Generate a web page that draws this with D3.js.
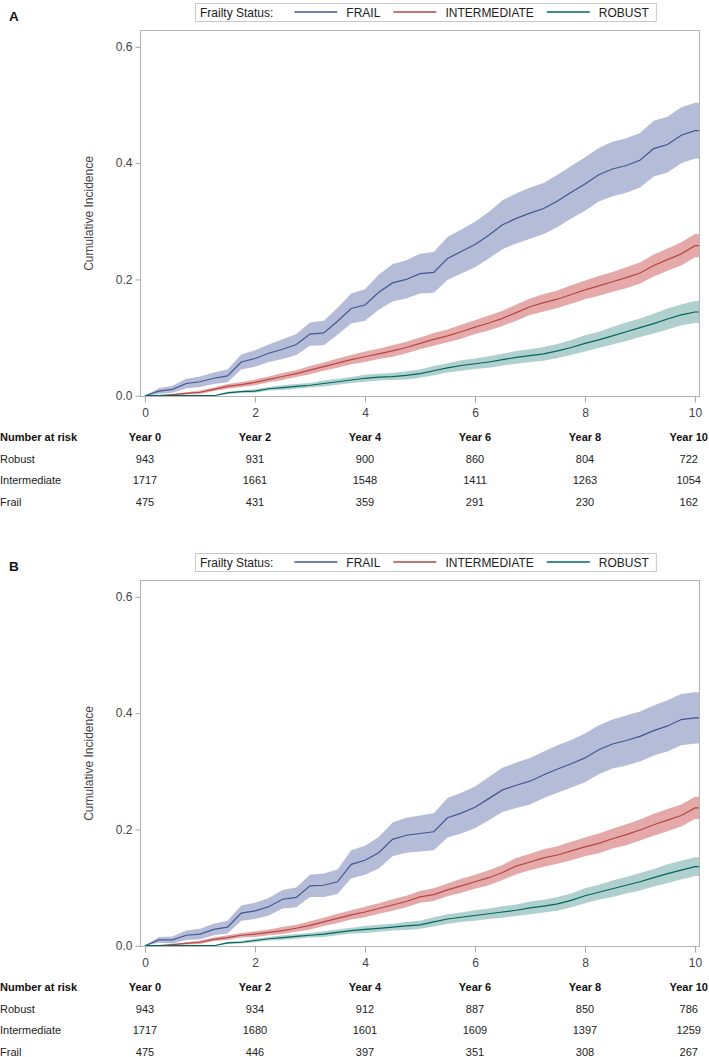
<!DOCTYPE html>
<html>
<head>
<meta charset="utf-8">
<script src="https://cdn.jsdelivr.net/npm/d3@7"></script>
<style>
  html, body { margin: 0; padding: 0; background: #fff; }
  svg text { font-family: "Liberation Sans", Arial, sans-serif; }
</style>
</head>
<body>
<svg id="chart" width="709" height="1057"></svg>
<script>
// ---------------- DATA ----------------
const times = [0,0.25,0.5,0.75,1,1.25,1.5,1.75,2,2.25,2.5,2.75,3,3.25,3.5,3.75,4,4.25,4.5,4.75,5,5.25,5.5,5.75,6,6.25,6.5,6.75,7,7.25,7.5,7.75,8,8.25,8.5,8.75,9,9.25,9.5,9.75,10];

const seriesNames = ["FRAIL", "INTERMEDIATE", "ROBUST"];
const xTicks = [0, 2, 4, 6, 8, 10];
const yTicks = [0.0, 0.2, 0.4, 0.6];
const riskHeader = ["Year 0", "Year 2", "Year 4", "Year 6", "Year 8", "Year 10"];
const riskRows = ["Robust", "Intermediate", "Frail"];
const panelLabels = ["A", "B"];

// Panel A
const aFrail    = [0,0.008,0.011,0.021,0.024,0.030,0.034,0.058,0.064,0.073,0.080,0.088,0.106,0.108,0.128,0.150,0.156,0.178,0.194,0.200,0.210,0.212,0.236,0.248,0.260,0.276,0.294,0.305,0.314,0.322,0.335,0.350,0.364,0.380,0.390,0.396,0.405,0.425,0.432,0.448,0.456];
const aFrailLo  = [0,0.003,0.005,0.013,0.015,0.020,0.023,0.045,0.050,0.058,0.063,0.070,0.086,0.087,0.105,0.124,0.129,0.148,0.162,0.167,0.176,0.177,0.199,0.210,0.221,0.236,0.252,0.262,0.270,0.278,0.290,0.305,0.318,0.334,0.343,0.349,0.358,0.377,0.384,0.400,0.408];
const aFrailHi  = [0,0.013,0.017,0.029,0.033,0.040,0.045,0.071,0.078,0.088,0.097,0.106,0.126,0.129,0.151,0.176,0.183,0.208,0.226,0.233,0.244,0.247,0.273,0.286,0.299,0.316,0.336,0.348,0.358,0.366,0.380,0.395,0.410,0.426,0.437,0.443,0.452,0.473,0.480,0.496,0.504];
const aInter    = [0,0,0.002,0.004,0.006,0.011,0.016,0.019,0.023,0.028,0.033,0.038,0.044,0.050,0.056,0.062,0.067,0.072,0.077,0.083,0.090,0.097,0.103,0.110,0.118,0.125,0.133,0.143,0.153,0.160,0.166,0.174,0.182,0.189,0.196,0.203,0.211,0.224,0.234,0.244,0.258];
const aInterLo  = [0,0,0.001,0.002,0.003,0.008,0.012,0.015,0.018,0.023,0.027,0.032,0.037,0.043,0.048,0.054,0.058,0.063,0.067,0.073,0.080,0.086,0.092,0.098,0.106,0.112,0.120,0.129,0.139,0.145,0.151,0.158,0.166,0.172,0.179,0.185,0.193,0.205,0.215,0.224,0.238];
const aInterHi  = [0,0,0.003,0.006,0.009,0.014,0.020,0.023,0.028,0.033,0.039,0.044,0.051,0.057,0.064,0.070,0.076,0.081,0.087,0.093,0.100,0.108,0.114,0.122,0.130,0.138,0.146,0.157,0.167,0.175,0.181,0.190,0.198,0.206,0.213,0.221,0.229,0.243,0.253,0.264,0.278];
const aRobust   = [0,0,0,0,0,0,0.005,0.007,0.008,0.012,0.014,0.016,0.018,0.021,0.024,0.027,0.030,0.032,0.033,0.035,0.038,0.043,0.048,0.052,0.055,0.058,0.062,0.066,0.069,0.072,0.077,0.083,0.090,0.096,0.103,0.110,0.117,0.124,0.132,0.139,0.144];
const aRobustLo = [0,0,0,0,0,0,0.003,0.005,0.005,0.009,0.010,0.012,0.014,0.016,0.019,0.022,0.024,0.026,0.027,0.028,0.031,0.035,0.040,0.043,0.046,0.048,0.052,0.055,0.058,0.060,0.065,0.070,0.076,0.082,0.088,0.094,0.101,0.107,0.114,0.121,0.125];
const aRobustHi = [0,0,0,0,0,0,0.007,0.009,0.011,0.015,0.018,0.020,0.022,0.026,0.029,0.032,0.036,0.038,0.039,0.042,0.045,0.051,0.056,0.061,0.064,0.068,0.072,0.077,0.080,0.084,0.089,0.096,0.104,0.110,0.118,0.126,0.133,0.141,0.150,0.157,0.163];
const aRiskRobust = [943, 931, 900, 860, 804, 722];
const aRiskInter  = [1717, 1661, 1548, 1411, 1263, 1054];
const aRiskFrail  = [475, 431, 359, 291, 230, 162];

// Panel B
const bFrail    = [0,0.010,0.010,0.018,0.020,0.028,0.032,0.056,0.060,0.067,0.080,0.083,0.103,0.104,0.110,0.140,0.147,0.160,0.183,0.190,0.193,0.196,0.220,0.228,0.238,0.253,0.268,0.276,0.283,0.294,0.304,0.313,0.323,0.337,0.347,0.353,0.360,0.370,0.378,0.389,0.392];
const bFrailLo  = [0,0.005,0.004,0.010,0.011,0.018,0.021,0.043,0.046,0.052,0.064,0.066,0.084,0.084,0.089,0.116,0.122,0.133,0.154,0.160,0.162,0.164,0.186,0.193,0.202,0.216,0.230,0.237,0.243,0.254,0.263,0.272,0.281,0.295,0.305,0.310,0.317,0.327,0.334,0.345,0.348];
const bFrailHi  = [0,0.015,0.016,0.026,0.029,0.038,0.043,0.069,0.074,0.082,0.096,0.100,0.122,0.124,0.131,0.164,0.172,0.187,0.212,0.220,0.224,0.228,0.254,0.263,0.274,0.290,0.306,0.315,0.323,0.334,0.345,0.354,0.365,0.379,0.389,0.396,0.403,0.413,0.422,0.433,0.436];
const bInter    = [0,0,0.002,0.004,0.006,0.011,0.014,0.018,0.020,0.023,0.026,0.030,0.035,0.041,0.047,0.053,0.058,0.064,0.070,0.076,0.084,0.088,0.096,0.103,0.110,0.117,0.126,0.137,0.144,0.151,0.156,0.163,0.170,0.176,0.184,0.191,0.199,0.208,0.216,0.224,0.237];
const bInterLo  = [0,0,0.001,0.002,0.003,0.008,0.010,0.014,0.015,0.018,0.020,0.024,0.028,0.034,0.039,0.045,0.049,0.055,0.060,0.066,0.074,0.077,0.085,0.091,0.098,0.104,0.113,0.123,0.130,0.136,0.141,0.147,0.154,0.159,0.167,0.173,0.181,0.189,0.197,0.205,0.218];
const bInterHi  = [0,0,0.003,0.006,0.009,0.014,0.018,0.022,0.025,0.028,0.032,0.036,0.042,0.048,0.055,0.061,0.067,0.073,0.080,0.086,0.094,0.099,0.107,0.115,0.122,0.130,0.139,0.151,0.158,0.166,0.171,0.179,0.186,0.193,0.201,0.209,0.217,0.227,0.235,0.243,0.256];
const bRobust   = [0,0,0,0,0,0,0.005,0.006,0.009,0.012,0.014,0.016,0.018,0.020,0.023,0.026,0.028,0.030,0.032,0.034,0.036,0.041,0.046,0.049,0.052,0.055,0.058,0.061,0.065,0.068,0.072,0.078,0.086,0.092,0.098,0.104,0.110,0.117,0.124,0.130,0.136];
const bRobustLo = [0,0,0,0,0,0,0.003,0.004,0.006,0.009,0.010,0.012,0.014,0.015,0.018,0.021,0.022,0.024,0.026,0.027,0.029,0.033,0.038,0.041,0.043,0.046,0.048,0.051,0.054,0.057,0.060,0.066,0.073,0.079,0.084,0.090,0.095,0.102,0.108,0.114,0.120];
const bRobustHi = [0,0,0,0,0,0,0.007,0.008,0.012,0.015,0.018,0.020,0.022,0.025,0.028,0.031,0.034,0.036,0.038,0.041,0.043,0.049,0.054,0.057,0.061,0.064,0.068,0.071,0.076,0.079,0.084,0.090,0.099,0.105,0.112,0.118,0.125,0.132,0.140,0.146,0.152];
const bRiskRobust = [943, 934, 912, 887, 850, 786];
const bRiskInter  = [1717, 1680, 1601, 1609, 1397, 1259];
const bRiskFrail  = [475, 446, 397, 351, 308, 267];

// ---------------- STYLE ----------------
const lineColors = { FRAIL: "#445694", INTERMEDIATE: "#B24745", ROBUST: "#01665E" };
const bandColors = { FRAIL: "#6F7EB3", INTERMEDIATE: "#D05B5B", ROBUST: "#66A5A0" };
const bandOpacity = 0.52;

const panels = [
  { label: panelLabels[0], off: 0,
    series: [
      { name: "FRAIL", est: aFrail, lo: aFrailLo, hi: aFrailHi },
      { name: "INTERMEDIATE", est: aInter, lo: aInterLo, hi: aInterHi },
      { name: "ROBUST", est: aRobust, lo: aRobustLo, hi: aRobustHi }],
    risk: [aRiskRobust, aRiskInter, aRiskFrail] },
  { label: panelLabels[1], off: 550,
    series: [
      { name: "FRAIL", est: bFrail, lo: bFrailLo, hi: bFrailHi },
      { name: "INTERMEDIATE", est: bInter, lo: bInterLo, hi: bInterHi },
      { name: "ROBUST", est: bRobust, lo: bRobustLo, hi: bRobustHi }],
    risk: [bRiskRobust, bRiskInter, bRiskFrail] }
];

const svg = d3.select("#chart");
const frameL = 140, frameR = 700, frameT = 30, frameB = 397;
const x = d3.scaleLinear().domain([-0.0909, 10.0909]).range([frameL, frameR]);
const xMax = x.domain()[1];

panels.forEach((p, pi) => {
  const g = svg.append("g").attr("transform", `translate(0,${p.off})`);
  const y = d3.scaleLinear().domain([-0.0022, 0.629]).range([frameB, frameT]);

  g.append("text").attr("x", 9).attr("y", 21)
    .attr("font-size", 13.5).attr("font-weight", "bold").attr("fill", "#111")
    .text(p.label);

  // legend
  const lg = g.append("g");
  const legY = 12;
  let cx = 200;
  const t0 = lg.append("text").attr("x", cx).attr("y", legY + 4.5)
    .attr("font-size", 12).attr("fill", "#222").text("Frailty Status:");
  cx += t0.node().getComputedTextLength() + 21;
  seriesNames.forEach(n => {
    lg.append("line").attr("x1", cx).attr("x2", cx + 43).attr("y1", legY).attr("y2", legY)
      .attr("stroke", lineColors[n]).attr("stroke-width", 1.3);
    cx += 52;
    const tt = lg.append("text").attr("x", cx).attr("y", legY + 4.5)
      .attr("font-size", 12).attr("fill", "#222").text(n);
    cx += tt.node().getComputedTextLength() + 13;
  });
  lg.insert("rect", ":first-child").attr("x", 195.5).attr("y", 3.5)
    .attr("width", cx - 195 - 6).attr("height", 18)
    .attr("fill", "#fff").attr("stroke", "#C8C8C8").attr("stroke-width", 1);

  const clipId = "clip" + pi;
  g.append("clipPath").attr("id", clipId).append("rect")
    .attr("x", frameL).attr("y", frameT).attr("width", frameR - frameL).attr("height", frameB - frameT);
  const plot = g.append("g").attr("clip-path", `url(#${clipId})`);

  const rows = s => {
    const r = times.map((t, i) => ({ t, est: s.est[i], lo: s.lo[i], hi: s.hi[i] }));
    const last = r[r.length - 1];
    r.push({ t: xMax, est: last.est, lo: last.lo, hi: last.hi });
    return r;
  };

  const area = d3.area().curve(d3.curveLinear)
    .x(d => x(d.t)).y0(d => y(d.lo)).y1(d => y(d.hi));
  const line = d3.line().curve(d3.curveLinear)
    .x(d => x(d.t)).y(d => y(d.est));

  p.series.forEach(s => {
    plot.append("path").datum(rows(s)).attr("d", area)
      .attr("fill", bandColors[s.name]).attr("fill-opacity", bandOpacity).attr("stroke", "none");
  });
  p.series.forEach(s => {
    plot.append("path").datum(rows(s)).attr("d", line)
      .attr("fill", "none").attr("stroke", lineColors[s.name]).attr("stroke-width", 1.2);
  });

  g.append("rect").attr("x", frameL + 0.5).attr("y", frameT + 0.5)
    .attr("width", frameR - frameL - 1).attr("height", frameB - frameT - 1)
    .attr("fill", "none").attr("stroke", "#B4B4B4").attr("stroke-width", 1);

  const yAxis = d3.axisLeft(y).tickValues(yTicks).tickFormat(d3.format(".1f")).tickSize(5).tickPadding(3);
  const ya = g.append("g").attr("transform", `translate(${frameL + 0.5},0)`).call(yAxis);
  const xAxis = d3.axisBottom(x).tickValues(xTicks).tickFormat(d3.format("d")).tickSize(6).tickPadding(6);
  const xa = g.append("g").attr("transform", `translate(0,${frameB - 0.5})`).call(xAxis);
  [ya, xa].forEach(a => {
    a.select(".domain").remove();
    a.selectAll(".tick line").attr("stroke", "#A8A8A8");
    a.selectAll(".tick text").attr("font-size", 12).attr("fill", "#444")
      .attr("font-family", "'Liberation Sans', Arial, sans-serif");
  });

  g.append("text")
    .attr("transform", `translate(93,${(frameT + frameB) / 2}) rotate(-90)`)
    .attr("text-anchor", "middle").attr("font-size", 12).attr("fill", "#444")
    .text("Cumulative Incidence");

  const headY = 441, rowGap = 21.6;
  const tbl = g.append("g").attr("font-size", 11).attr("fill", "#111");
  tbl.append("text").attr("x", 0).attr("y", headY).attr("font-weight", "bold").text("Number at risk");
  const colX = xTicks.map(t => x(t));
  riskHeader.forEach((h, i) => {
    const tx = tbl.append("text").attr("y", headY).attr("font-weight", "bold")
      .attr("text-anchor", "middle").attr("x", colX[i]).text(h);
    const w = tx.node().getComputedTextLength();
    if (colX[i] + w / 2 > 708) colX[i] = 708 - w / 2;
    tx.attr("x", colX[i]);
  });
  riskRows.forEach((r, ri) => {
    const ry = headY + rowGap * (ri + 1);
    tbl.append("text").attr("x", 0).attr("y", ry).attr("fill", "#222").text(r);
    p.risk[ri].forEach((v, i) => {
      tbl.append("text").attr("x", colX[i]).attr("y", ry).attr("text-anchor", "middle")
        .attr("fill", "#222").text(v);
    });
  });
});
</script>
</body>
</html>
